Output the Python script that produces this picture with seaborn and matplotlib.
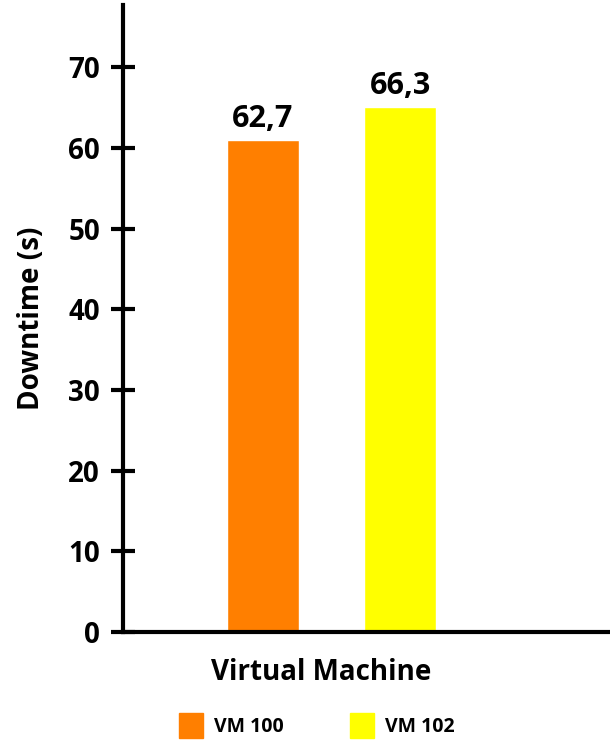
import matplotlib
matplotlib.use("Agg")
import matplotlib.pyplot as plt
import seaborn as sns
import pandas as pd

# bar heights as drawn in the picture, labels as printed above the bars
machines = ["VM 100", "VM 102"]
downtime = [61.0, 65.1]
value_labels = ["62,7", "66,3"]
colors = ["#FF7F00", "#FFFF00"]
yticks = [0, 10, 20, 30, 40, 50, 60, 70]

sns.set_style("white")
plt.rcParams["font.family"] = ["Open Sans", "DejaVu Sans"]
plt.rcParams["font.weight"] = "bold"
plt.rcParams["text.color"] = "black"
plt.rcParams["axes.labelcolor"] = "black"
plt.rcParams["ytick.color"] = "black"

df = pd.DataFrame({"Machine": machines, "Downtime": downtime})

fig = plt.figure(figsize=(6.1, 7.4), dpi=100)
ax = fig.add_axes([0.2016, 0.146, 0.7984, 0.847])

sns.barplot(data=df, x="Machine", y="Downtime", hue="Machine",
            palette=colors, width=0.53, saturation=1, legend=False, ax=ax)

for patch, lab in zip(ax.patches, value_labels):
    ax.text(patch.get_x() + patch.get_width() / 2, patch.get_height() + 0.7, lab,
            ha="center", va="bottom", fontsize=22, fontweight="bold", color="black")

ax.set_xlim(-1.02, 2.53)
ax.set_ylim(0, 77.7)
ax.set_yticks(yticks)
ax.set_xticks([])
ax.tick_params(axis="y", left=True, direction="inout", length=17, width=3,
               labelsize=20, pad=8, colors="black")
for t in ax.get_yticklabels():
    t.set_fontweight("bold")

sns.despine(ax=ax, top=True, right=True)
for side in ["left", "bottom"]:
    ax.spines[side].set_linewidth(3)
    ax.spines[side].set_color("black")

ax.set_ylabel("Downtime (s)", fontsize=20, fontweight="bold", labelpad=16)
ax.set_xlabel("Virtual Machine", fontsize=20, fontweight="bold", labelpad=19)
ax.xaxis.label.set_x(0.407)

handles = [plt.Rectangle((0, 0), 1, 1, color=c) for c in colors]
fig.legend(handles, machines, loc="upper center", bbox_to_anchor=(0.52, 0.05),
           ncol=2, frameon=False, handlelength=1.2, handleheight=1.6,
           handletextpad=0.6, columnspacing=3.4, borderpad=0,
           prop={"weight": "bold", "size": 14})

fig.savefig("out.png", dpi=100, facecolor="white")
